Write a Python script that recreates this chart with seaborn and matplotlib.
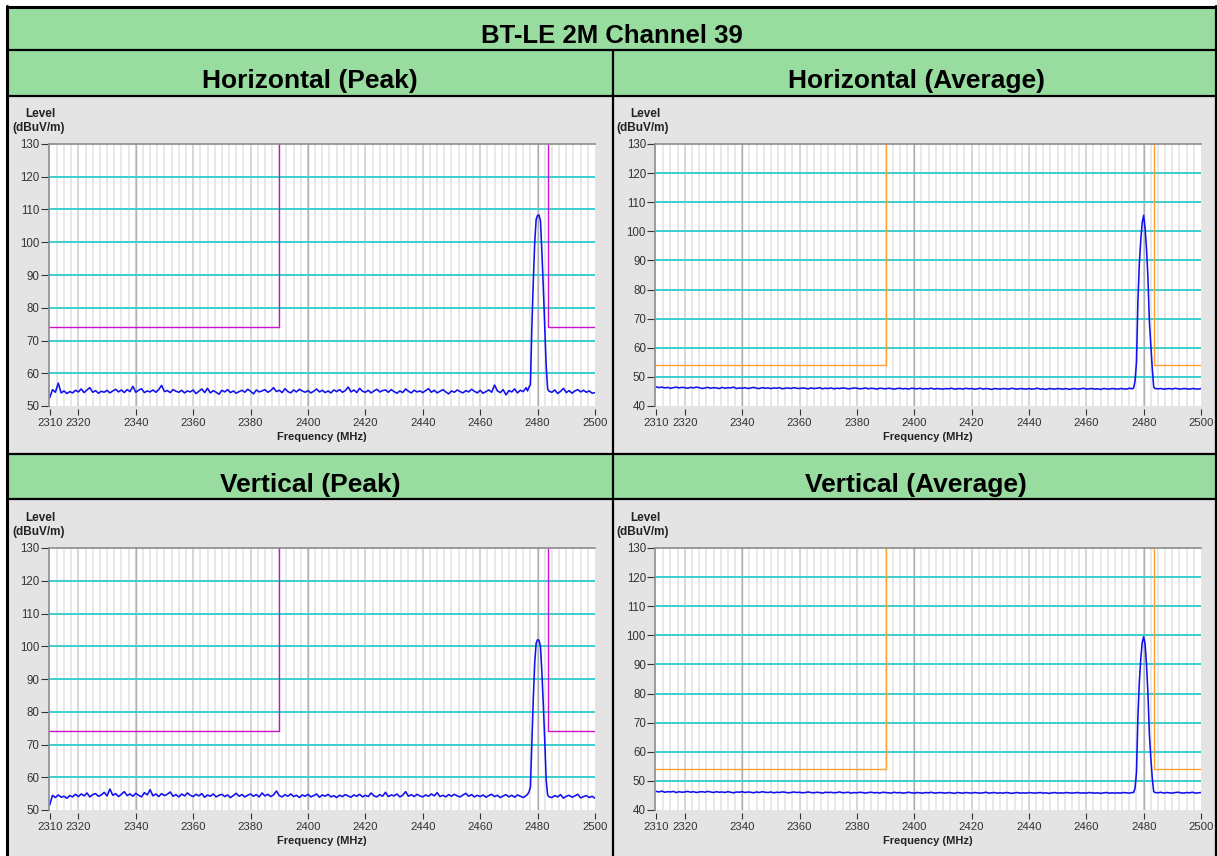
import matplotlib

matplotlib.use("Agg")
import matplotlib.pyplot as plt
import numpy as np
import seaborn as sns
from matplotlib.patches import Rectangle

sns.set_theme(style="white")
plt.rcParams["font.family"] = ["Liberation Sans", "DejaVu Sans"]
plt.rcParams["text.color"] = "black"

# ---------------------------------------------------------------- data
TITLE = "BT-LE 2M Channel 39"
PANEL_TITLES = ["Horizontal (Peak)", "Horizontal (Average)", "Vertical (Peak)", "Vertical (Average)"]

FREQ_TICKS = [2310, 2320, 2340, 2360, 2380, 2400, 2420, 2440, 2460, 2480, 2500]
PEAK_YTICKS = [50, 60, 70, 80, 90, 100, 110, 120, 130]
AVG_YTICKS = [40, 50, 60, 70, 80, 90, 100, 110, 120, 130]

PEAK_LIMIT = 74
AVG_LIMIT = 54
BAND_EDGES = [2390, 2483.5]

# frequency grids: 1 MHz below the carrier, 0.5 MHz over it, 1 MHz above
FREQ_LO = np.arange(2310, 2477)
FREQ_PK = np.arange(2476.5, 2484.1, 0.5)
FREQ_HI = np.arange(2485, 2501)

h_peak_lo = [
    52.5, 55.0, 54.2, 57.0, 54.0, 54.6, 53.8, 54.4, 54.0, 54.8,
    54.3, 55.2, 54.1, 54.9, 55.6, 54.2, 54.7, 53.9, 54.5, 54.2,
    54.8, 54.0, 54.6, 55.1, 54.3, 54.9, 54.1, 55.0, 54.4, 56.0,
    54.2, 54.8, 55.3, 54.1, 54.6, 54.3, 54.9, 54.2, 55.0, 56.3,
    54.4, 54.7, 54.1, 55.0, 54.5, 54.2, 54.8, 54.0, 54.6, 54.3,
    54.9, 53.8, 54.5, 55.2, 54.1, 55.4, 54.0, 54.7, 54.2, 53.6,
    54.8, 54.3, 55.0, 54.1, 54.6, 53.9, 54.4, 54.8, 54.2, 55.1,
    54.5, 53.7, 54.9, 54.3, 54.6, 55.0, 54.2, 54.7, 55.6, 54.4,
    54.8, 54.1, 55.3, 54.4, 54.0, 54.9, 54.3, 55.1, 54.6, 54.2,
    54.7, 54.0, 54.5, 55.2, 54.3, 54.8, 54.1, 54.6, 54.0, 54.9,
    54.4, 55.0, 54.2, 54.7, 55.8, 54.3, 54.9, 54.1, 55.4, 54.5,
    54.2, 54.8, 54.0, 54.6, 55.1, 54.3, 54.7, 54.9, 54.2, 55.0,
    54.4, 53.9, 54.6, 54.1, 55.2, 54.5, 54.0, 54.8, 54.3, 54.6,
    54.1, 54.7, 55.3, 54.2, 54.8, 54.0, 54.5, 55.0, 54.3, 53.7,
    54.6, 54.2, 54.9, 54.4, 54.0, 54.7, 54.3, 55.1, 54.5, 54.0,
    54.8, 53.9, 54.4, 54.9, 54.2, 56.4, 54.6, 54.1, 55.0, 53.4,
    54.7, 54.3, 55.2, 54.0, 54.8, 54.4, 55.6,
]
h_peak_pk = [54.6, 55.8, 56.5, 74.0, 88.0, 100.0, 107.0, 108.2, 108.3, 106.5,
             97.0, 86.0, 74.0, 62.0, 55.2, 54.5]
h_peak_hi = [54.2, 54.9, 53.8, 54.5, 55.4, 54.1, 54.7, 53.9, 54.6, 55.0,
             54.3, 54.8, 54.2, 54.6, 53.9, 54.1]

h_avg_lo = [
    46.6, 46.3, 46.5, 46.2, 46.4, 46.1, 46.3, 46.5, 46.2, 46.4,
    46.3, 46.1, 46.4, 46.2, 46.5, 46.3, 46.0, 46.2, 46.4, 46.1,
    46.3, 46.2, 46.0, 46.4, 46.1, 46.3, 46.2, 46.5, 46.0, 46.2,
    46.1, 46.3, 46.0, 46.2, 46.4, 46.1, 46.0, 46.3, 46.1, 46.2,
    46.0, 46.2, 46.1, 46.3, 45.9, 46.1, 46.2, 46.0, 46.3, 46.1,
    46.0, 46.2, 46.1, 45.9, 46.2, 46.0, 46.1, 46.3, 45.9, 46.1,
    46.0, 46.2, 45.9, 46.1, 46.0, 46.2, 46.1, 45.9, 46.0, 46.2,
    46.1, 45.9, 46.0, 46.2, 45.9, 46.1, 46.0, 45.8, 46.1, 46.0,
    45.9, 46.1, 46.0, 45.8, 46.0, 46.1, 45.9, 46.0, 45.8, 46.1,
    46.0, 45.9, 46.1, 45.8, 46.0, 45.9, 46.1, 45.8, 46.0, 45.9,
    45.8, 46.0, 45.9, 46.1, 45.8, 45.9, 46.0, 45.8, 46.1, 45.9,
    46.0, 45.8, 45.9, 46.1, 45.8, 46.0, 45.9, 45.7, 46.0, 45.9,
    45.8, 46.0, 45.9, 45.8, 46.1, 45.9, 45.8, 46.0, 45.9, 45.8,
    46.0, 45.8, 45.9, 46.1, 45.8, 45.9, 45.7, 46.0, 45.9, 45.8,
    46.0, 45.9, 45.8, 46.0, 45.7, 45.9, 46.0, 45.8, 45.9, 46.1,
    45.8, 45.9, 46.0, 45.8, 45.9, 45.7, 46.0, 45.9, 45.8, 46.0,
    45.9, 45.8, 46.0, 45.9, 45.8, 46.1, 45.9,
]
h_avg_pk = [46.2, 48.5, 55.0, 76.0, 89.0, 97.0, 103.0, 105.5, 101.0, 94.0,
            84.0, 69.0, 61.0, 53.0, 46.5, 46.0]
h_avg_hi = [45.9, 46.0, 45.8, 45.9, 46.0, 45.8, 46.1, 45.9, 45.8, 46.0,
            45.9, 45.8, 46.0, 45.9, 45.8, 46.0]

v_peak_lo = [
    51.5, 54.5, 53.8, 54.6, 53.9, 54.2, 53.6, 54.4, 54.0, 54.8,
    54.1, 54.9, 54.3, 55.2, 54.0, 54.7, 55.0, 54.2, 54.6, 55.4,
    54.3, 56.4, 54.5, 55.0, 54.1, 54.8, 55.6, 54.4, 54.9, 54.2,
    55.1, 54.5, 54.0, 55.3, 54.6, 56.2, 54.3, 54.9, 54.1, 55.0,
    54.4, 54.8, 55.5, 54.2, 54.7, 54.0, 54.9, 54.3, 55.2, 54.5,
    54.1, 54.8, 54.3, 55.0, 53.9, 54.6, 54.2, 54.9, 54.0, 54.5,
    54.8, 54.1, 54.6, 53.8, 54.4, 55.1, 54.2, 54.7, 54.0, 54.5,
    54.9, 54.2, 54.7, 54.0, 55.2, 54.3, 54.8, 54.1, 54.6, 55.8,
    54.4, 54.0, 54.7, 54.2, 54.9, 54.1, 54.5, 53.8, 54.6, 54.2,
    54.8, 54.0, 54.4, 54.9, 53.9, 54.6, 54.2, 54.8, 54.0, 54.4,
    53.8, 54.5, 54.1, 54.7, 54.3, 53.9, 54.6, 54.2, 54.8, 54.0,
    54.5, 54.1, 55.2, 54.3, 54.0, 54.7, 54.2, 55.4, 54.1, 54.6,
    54.3, 54.9, 54.0, 54.5, 55.6, 54.2, 54.7, 54.1, 54.8, 54.3,
    54.0, 54.6, 54.2, 54.9, 54.3, 55.3, 54.1, 54.5, 54.0, 54.7,
    54.2, 54.8, 54.3, 54.0, 54.6, 55.1, 54.2, 54.7, 54.0, 54.5,
    54.1, 54.6, 53.9, 54.4, 54.8, 54.1, 54.5, 53.8, 54.3, 54.7,
    54.0, 54.5, 53.9, 54.6, 54.2, 53.8, 54.4,
]
v_peak_pk = [54.8, 55.5, 57.0, 71.0, 84.0, 95.0, 101.0, 102.0, 101.8, 100.0,
             92.0, 82.0, 71.0, 59.0, 54.6, 54.0]
v_peak_hi = [53.8, 54.4, 54.0, 54.7, 53.6, 54.2, 54.5, 53.9, 54.3, 54.8,
             53.7, 54.1, 54.4, 53.8, 54.2, 53.6]

v_avg_lo = [
    46.4, 46.2, 46.5, 46.1, 46.3, 46.2, 46.4, 46.0, 46.3, 46.1,
    46.2, 46.4, 46.1, 46.3, 46.0, 46.2, 46.3, 46.1, 46.4, 46.2,
    46.0, 46.3, 46.1, 46.2, 46.0, 46.3, 46.1, 45.9, 46.2, 46.1,
    46.3, 46.0, 46.2, 46.1, 45.9, 46.2, 46.0, 46.3, 46.1, 46.0,
    46.2, 45.9, 46.1, 46.0, 46.2, 46.1, 45.9, 46.0, 46.2, 46.0,
    46.1, 45.9, 46.0, 46.2, 46.0, 45.9, 46.1, 46.0, 45.8, 46.1,
    46.0, 46.1, 45.9, 46.0, 46.2, 45.9, 46.0, 46.1, 45.8, 46.0,
    45.9, 46.1, 46.0, 45.8, 46.0, 46.1, 45.9, 46.0, 45.8, 46.1,
    46.0, 45.9, 45.8, 46.1, 45.9, 46.0, 45.8, 45.9, 46.1, 45.9,
    45.8, 46.0, 45.9, 45.8, 46.0, 45.9, 46.1, 45.8, 45.9, 46.0,
    45.9, 45.8, 46.0, 45.9, 45.7, 46.0, 45.9, 45.8, 46.0, 45.9,
    45.8, 46.0, 45.9, 45.8, 45.9, 46.1, 45.8, 45.9, 46.0, 45.8,
    45.9, 45.8, 46.0, 45.9, 45.7, 45.9, 46.0, 45.8, 45.9, 45.8,
    46.0, 45.9, 45.8, 45.9, 46.0, 45.8, 45.9, 45.7, 45.9, 46.0,
    45.8, 45.9, 45.8, 46.0, 45.9, 45.8, 45.9, 46.0, 45.8, 45.9,
    45.8, 46.0, 45.9, 45.8, 45.9, 45.7, 45.9, 46.0, 45.8, 45.9,
    45.8, 45.9, 45.8, 46.0, 45.9, 45.8, 46.0,
]
v_avg_pk = [46.0, 47.5, 53.0, 72.0, 84.0, 92.0, 97.5, 99.5, 97.0, 90.0,
            80.0, 66.0, 58.0, 51.0, 46.3, 46.0]
v_avg_hi = [45.9, 46.1, 45.8, 46.0, 45.9, 45.8, 46.0, 46.1, 45.9, 45.8,
            46.0, 45.9, 46.1, 45.8, 45.9, 46.0]

TRACES = [
    (h_peak_lo, h_peak_pk, h_peak_hi),
    (h_avg_lo, h_avg_pk, h_avg_hi),
    (v_peak_lo, v_peak_pk, v_peak_hi),
    (v_avg_lo, v_avg_pk, v_avg_hi),
]

# ---------------------------------------------------------------- layout
W, H = 1217, 856
GREEN = "#98DCA0"
PANEL_BG = "#E4E4E4"
CYAN = "#3CCFCF"
TRACE_BLUE = "#1010F0"

fig = plt.figure(figsize=(W / 100, H / 100), dpi=100, facecolor="white")
bg = fig.add_axes([0, 0, 1, 1])
bg.set_xlim(0, W)
bg.set_ylim(H, 0)
bg.axis("off")

# table cells
bg.add_patch(Rectangle((7, 7), W - 7, 89, facecolor=GREEN, edgecolor="none"))
bg.add_patch(Rectangle((7, 96), W - 7, 358, facecolor=PANEL_BG, edgecolor="none"))
bg.add_patch(Rectangle((7, 454), W - 7, 45, facecolor=GREEN, edgecolor="none"))
bg.add_patch(Rectangle((7, 499), W - 7, H - 499, facecolor=PANEL_BG, edgecolor="none"))
for y, lw in [(7, 2.2), (50, 1.6), (96, 1.6), (453.5, 1.6), (499, 1.6)]:
    bg.plot([6, W], [y, y], color="black", lw=lw, solid_capstyle="butt")
bg.plot([7, 7], [6, H], color="black", lw=2.2)
bg.plot([W - 0.6, W - 0.6], [6, H], color="black", lw=1.6)
bg.plot([613, 613], [50, H], color="black", lw=1.6)

bg.text(612, 36, TITLE, ha="center", va="center", fontsize=18.5, fontweight="bold", color="black")
header_pos = [(310, 81), (916, 81), (310, 485), (916, 485)]
for (hx, hy), title in zip(header_pos, PANEL_TITLES):
    bg.text(hx, hy, title, ha="center", va="center", fontsize=19, fontweight="bold", color="black")

# plot areas in pixel coordinates (x0, y0, x1, y1)
plot_boxes = [(48.5, 144, 595, 406), (655, 144, 1201, 406),
              (48.5, 548, 595, 810), (655, 548, 1201, 810)]

for i, (box, trace) in enumerate(zip(plot_boxes, TRACES)):
    x0, y0, x1, y1 = box
    is_avg = i % 2 == 1
    yticks = AVG_YTICKS if is_avg else PEAK_YTICKS
    limit = AVG_LIMIT if is_avg else PEAK_LIMIT
    limit_color = "#FFA030" if is_avg else "#CC10CC"

    ax = fig.add_axes([x0 / W, 1 - y1 / H, (x1 - x0) / W, (y1 - y0) / H])
    ax.set_facecolor("white")
    ax.set_xlim(2309.6, 2500)
    ax.set_ylim(yticks[0], yticks[-1])

    # frequency grid
    for f in np.arange(2312.5, 2500, 2.5):
        ax.axvline(f, color="#E4E4E4", lw=1.2, zorder=0.5)
    for f in FREQ_TICKS[1:-1]:
        ax.axvline(f, color="#D2D2D2", lw=1.1, zorder=0.6)
    for f in [2340, 2400, 2480]:
        ax.axvline(f, color="#B0B0B0", lw=1.0, zorder=0.7)
    for lv in yticks[1:-1]:
        ax.axhline(lv, color=CYAN, lw=1.4, zorder=0.8)

    # limit lines
    ax.plot([2309.6, BAND_EDGES[0], BAND_EDGES[0]], [limit, limit, yticks[-1] + 2],
            color=limit_color, lw=1.0, zorder=1.5)
    ax.plot([BAND_EDGES[1], BAND_EDGES[1], 2500], [yticks[-1] + 2, limit, limit],
            color=limit_color, lw=1.0, zorder=1.5)

    freq = np.concatenate([FREQ_LO, FREQ_PK, FREQ_HI])
    level = np.concatenate([trace[0], trace[1], trace[2]])
    sns.lineplot(x=freq, y=level, ax=ax, color=TRACE_BLUE, lw=1.15,
                 estimator=None, sort=False, legend=False, zorder=2)

    ax.set_xticks(FREQ_TICKS)
    ax.set_yticks(yticks)
    ax.set_xlabel("")
    ax.set_ylabel("")
    for side in ["right", "bottom"]:
        ax.spines[side].set_visible(False)
    for side in ["top", "left"]:
        ax.spines[side].set_color("#8C8C8C")
        ax.spines[side].set_linewidth(1.2)
    ax.spines["bottom"].set_position(("outward", 2.5))
    ax.tick_params(axis="y", left=True, direction="out", length=5.5, width=0.8,
                   color="#333333", pad=1, labelsize=8.3, labelcolor="#333333")
    ax.tick_params(axis="x", bottom=True, direction="out", length=4, width=0.8,
                   color="#333333", pad=2, labelsize=8.2, labelcolor="#333333")

    # axis captions
    lx = x0 - 8 if not is_avg else x0 - 10
    bg.text(lx, y0 - 30, "Level", ha="center", va="center", fontsize=8.5,
            fontweight="bold", color="#222222")
    bg.text(lx - 2, y0 - 16, "(dBuV/m)", ha="center", va="center", fontsize=8.5,
            fontweight="bold", color="#222222")
    bg.text((x0 + x1) / 2, y1 + 31, "Frequency (MHz)", ha="center", va="center",
            fontsize=8, fontweight="bold", color="#222222")

fig.savefig("out.png", dpi=100, facecolor="white")
plt.close(fig)
